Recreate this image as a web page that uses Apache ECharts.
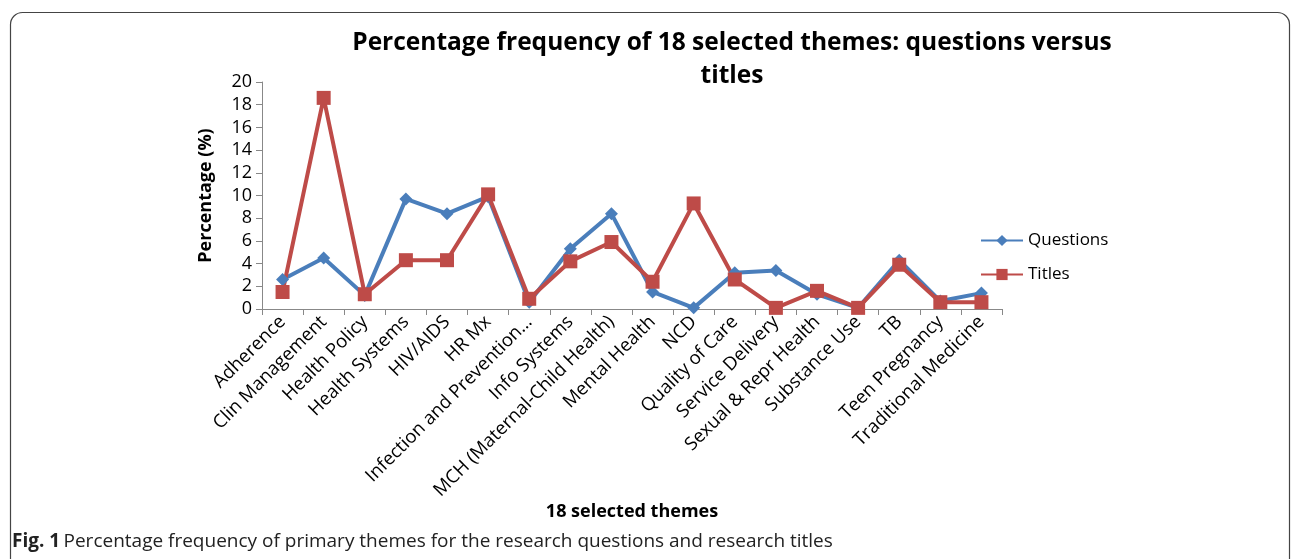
<!DOCTYPE html>
<html><head><meta charset="utf-8">
<script src="https://cdn.jsdelivr.net/npm/echarts@6/dist/echarts.min.js"></script>
<style>html,body{margin:0;padding:0;background:#fff}#c{width:1292px;height:559px}</style>
</head><body><div id="c"></div>
<script>
const categories = ["Adherence","Clin Management","Health Policy","Health Systems","HIV/AIDS","HR Mx","Infection and Prevention…","Info Systems","MCH (Maternal-Child Health)","Mental Health","NCD","Quality of Care","Service Delivery","Sexual & Repr Health","Substance Use","TB","Teen Pregnancy","Traditional Medicine"];
const questions = [2.6,4.5,1.2,9.7,8.4,9.9,0.6,5.3,8.4,1.5,0.1,3.2,3.4,1.3,0.1,4.3,0.7,1.4];
const titles = [1.5,18.6,1.3,4.3,4.3,10.1,0.9,4.2,5.9,2.4,9.3,2.6,0.1,1.6,0.1,3.9,0.6,0.6];
const yTicks = {min:0,max:20,interval:2};

const font = "'Open Sans',sans-serif";
const chart = echarts.init(document.getElementById('c'));
chart.setOption({
  animation:false,
  backgroundColor:'#fff',
  textStyle:{fontFamily:font},
  graphic:[
    {type:'rect',shape:{x:10.5,y:12.5,width:1279,height:580,r:12},style:{fill:'none',stroke:'#444',lineWidth:1.2}},
    {type:'text',left:12,top:532,style:{rich:{b:{fontWeight:'bold',fontSize:19,fontFamily:font,fill:'#222'},n:{fontSize:19,fontFamily:font,fill:'#222'}},text:'{b|Fig. 1} {n|Percentage frequency of primary themes for the research questions and research titles}'}}
  ],
  title:{text:'Percentage frequency of 18 selected themes: questions versus\ntitles',left:727,top:22,textAlign:'center',
    textStyle:{fontSize:24.5,fontWeight:'bold',color:'#000',lineHeight:33,fontFamily:font}},
  legend:{orient:'vertical',left:975,top:227,itemGap:17,itemWidth:42,itemHeight:14,
    textStyle:{fontSize:17,color:'#000',fontFamily:font},
    data:['Questions','Titles']},
  grid:{left:262,right:290,top:82,bottom:250},
  xAxis:{type:'category',data:categories,boundaryGap:true,
    name:'18 selected themes',nameLocation:'middle',nameGap:194,
    nameTextStyle:{fontSize:18,fontWeight:'bold',color:'#000',fontFamily:font},
    axisLine:{lineStyle:{color:'#888'}},
    axisTick:{show:true,alignWithLabel:false,length:6,lineStyle:{color:'#888'}},
    axisLabel:{rotate:45,fontSize:18.5,color:'#000',interval:0,margin:10,fontFamily:font}},
  yAxis:{type:'value',min:yTicks.min,max:yTicks.max,interval:yTicks.interval,
    name:'Percentage (%)',nameLocation:'middle',nameGap:47,nameRotate:90,
    nameTextStyle:{fontSize:18,fontWeight:'bold',color:'#000',fontFamily:font},
    splitLine:{show:false},
    axisLine:{show:true,lineStyle:{color:'#888'}},
    axisTick:{show:true,length:6,lineStyle:{color:'#888'}},
    axisLabel:{fontSize:18,color:'#000',margin:10,fontFamily:font}},
  series:[
    {name:'Questions',type:'line',data:questions,symbol:'diamond',symbolSize:13,
      lineStyle:{width:4,color:'#4A7EBB'},itemStyle:{color:'#4A7EBB'},color:'#4A7EBB'},
    {name:'Titles',type:'line',data:titles,symbol:'rect',symbolSize:14,
      lineStyle:{width:4,color:'#BE4B48'},itemStyle:{color:'#BE4B48'},color:'#BE4B48'}
  ]
});
</script></body></html>
